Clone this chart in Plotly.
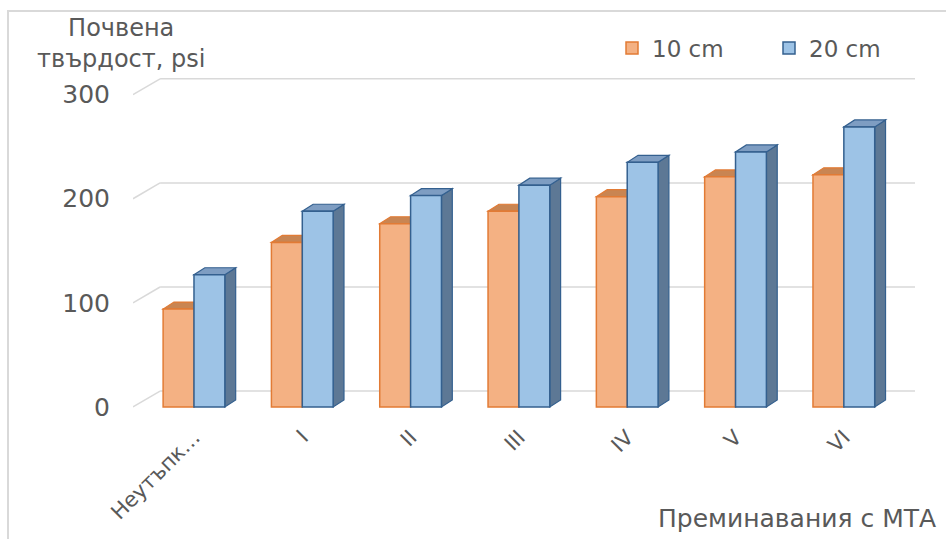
import plotly.graph_objects as go

# Soil hardness by number of tractor passes, two depths
categories = ["Неутъпк…", "I", "II", "III", "IV", "V", "VI"]
depth_10cm = [94, 158, 176, 188, 202, 221, 223]
depth_20cm = [127, 188, 203, 213, 235, 245, 269]
series_names = ["10 cm", "20 cm"]
y_ticks = [0, 100, 200, 300]

# pseudo-3D geometry (axis units)
BARGAP = 0.43
HALF = (1 - BARGAP) / 2          # width of one bar
BAR_DX, BAR_DY = 0.10, 6.7       # depth of a bar
WALL_DX, WALL_DY = 0.25, 15.2    # depth of the back wall
X_RANGE = [-0.563, 6.657]
Y_RANGE = [-3, 316]

ORANGE = dict(front="#F4B183", edge="#E27B35", top="#C98552", side="#B86A33")
BLUE = dict(front="#9DC3E6", edge="#34608F", top="#7E9DC2", side="#5D7895")
GRID = "#D9D9D9"
TEXT = "#595959"
FONT = "DejaVu Sans"

xs = list(range(len(categories)))

fig = go.Figure()
for name, vals, col in [(series_names[0], depth_10cm, ORANGE),
                        (series_names[1], depth_20cm, BLUE)]:
    fig.add_trace(go.Bar(
        x=xs, y=vals, name=name,
        marker=dict(color=col["front"], line=dict(color=col["edge"], width=1.5)),
    ))

shapes = []

# back-wall gridlines with the receding segment on the left
for v in y_ticks:
    shapes.append(dict(type="line", xref="x", yref="y", layer="below",
                       x0=X_RANGE[0], y0=v, x1=X_RANGE[0] + WALL_DX, y1=v + WALL_DY,
                       line=dict(color=GRID, width=1.5)))
    shapes.append(dict(type="line", xref="x", yref="y", layer="below",
                       x0=X_RANGE[0] + WALL_DX, y0=v + WALL_DY, x1=X_RANGE[1], y1=v + WALL_DY,
                       line=dict(color=GRID, width=1.5)))


def poly(pts):
    return "M " + " L ".join(f"{px:.4f},{py:.4f}" for px, py in pts) + " Z"


# top and side faces of every bar
for vals, col, left_of in [(depth_10cm, ORANGE, True), (depth_20cm, BLUE, False)]:
    for c, v in zip(xs, vals):
        x0 = c - HALF if left_of else c
        x1 = c if left_of else c + HALF
        side = [(x1, 0), (x1, v), (x1 + BAR_DX, v + BAR_DY), (x1 + BAR_DX, BAR_DY)]
        top = [(x0, v), (x1, v), (x1 + BAR_DX, v + BAR_DY), (x0 + BAR_DX, v + BAR_DY)]
        shapes.append(dict(type="path", xref="x", yref="y", layer="below",
                           path=poly(side), fillcolor=col["side"],
                           line=dict(color=col["edge"], width=1.2)))
        shapes.append(dict(type="path", xref="x", yref="y", layer="below",
                           path=poly(top), fillcolor=col["top"],
                           line=dict(color=col["edge"], width=1.2)))

# chart-area frame (left and top edges)
L, R, T, B = 133, 31, 78, 129
W, H = 946, 539
pw, ph = W - L - R, H - T - B


def px_x(p):
    return (p - L) / pw


def px_y(p):
    return (H - B - p) / ph


shapes.append(dict(type="path", xref="paper", yref="paper", layer="below",
                   path=f"M {px_x(8)},{px_y(545)} L {px_x(8)},{px_y(11)} L {px_x(950)},{px_y(11)}",
                   line=dict(color=GRID, width=2)))

fig.update_layout(
    width=W, height=H,
    margin=dict(l=L, r=R, t=T, b=B),
    paper_bgcolor="white", plot_bgcolor="white",
    barmode="group", bargap=BARGAP, bargroupgap=0,
    font=dict(family=FONT, color=TEXT),
    shapes=shapes,
    showlegend=True,
    legend=dict(orientation="h", x=px_x(612), y=px_y(48), xanchor="left", yanchor="middle",
                font=dict(size=23, color=TEXT, family=FONT), entrywidth=112,
                bgcolor="rgba(0,0,0,0)"),
    xaxis=dict(range=X_RANGE, tickmode="array", tickvals=xs, ticktext=categories,
               tickangle=-45, showgrid=False, zeroline=False, showline=False,
               ticks="", tickfont=dict(size=21, color=TEXT, family=FONT),
               ticklabelstandoff=10),
    yaxis=dict(range=Y_RANGE, tickmode="array", tickvals=y_ticks,
               showgrid=False, zeroline=False, showline=False, ticks="",
               tickfont=dict(size=25, color=TEXT, family=FONT),
               ticklabelstandoff=22),
    annotations=[
        dict(text="Почвена<br>твърдост, psi", xref="paper", yref="paper",
             x=px_x(121), y=px_y(43), xanchor="center", yanchor="middle",
             showarrow=False, font=dict(size=24, color=TEXT, family=FONT)),
        dict(text="Преминавания с МТА", xref="paper", yref="paper",
             x=px_x(938), y=px_y(518), xanchor="right", yanchor="middle",
             showarrow=False, font=dict(size=25, color=TEXT, family=FONT)),
    ],
)

fig.write_html("out.html")
